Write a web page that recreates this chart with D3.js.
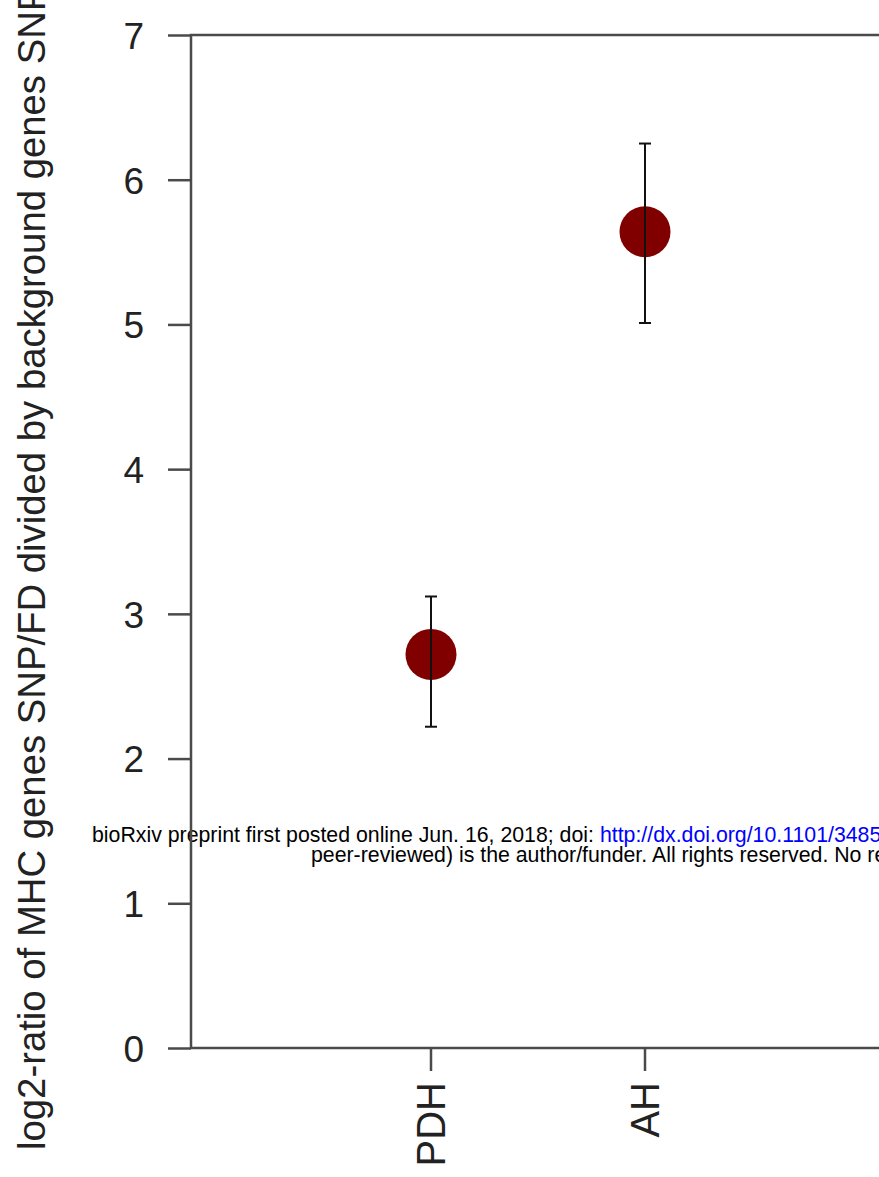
<!DOCTYPE html>
<meta charset="utf-8">
<head>
<script type="text/javascript" src="https://cdn.jsdelivr.net/npm/d3@7/dist/d3.min.js"></script>
<style>
	body { margin: 0; background: #fff; }
	svg { display: block; }
	.axis text { font-family: "Liberation Sans", Arial, sans-serif; }
</style>
</head>
<body>
<div id="chart"></div>
<script>

// data
var groups = ["PDH", "AH"];
var ratio = [2.72, 5.64];
var upper = [3.12, 6.25];
var lower = [2.22, 5.01];
var yTicks = [0, 1, 2, 3, 4, 5, 6, 7];

var width = 879, height = 1177;

var svg = d3.select("#chart").append("svg")
	.attr("width", width)
	.attr("height", height);

// scales
var y = d3.scaleLinear().domain([0, 7]).range([1048, 35]);
var x = d3.scaleLinear().domain([0, 1]).range([431, 645]);

var axisColor = "#4a4a4a";

// watermark (sits under the plot)
var wm = svg.append("g")
	.attr("font-family", "'Liberation Sans', Arial, sans-serif")
	.attr("font-size", "21.3px");
var line1 = wm.append("text").attr("x", 92).attr("y", 841.5);
line1.append("tspan").attr("fill", "#000").text("bioRxiv preprint first posted online Jun. 16, 2018; doi: ");
line1.append("tspan").attr("fill", "#0000ff").text("http://dx.doi.org/10.1101/348540");
wm.append("text").attr("x", 311).attr("y", 861.5).attr("fill", "#000")
	.text("peer-reviewed) is the author/funder. All rights reserved. No reuse allowed without permission.");

// box (right side runs off the picture)
svg.append("path")
	.attr("d", "M" + (width + 10) + "," + y(7) + "H191V" + y(0) + "H" + (width + 10))
	.attr("fill", "none")
	.attr("stroke", axisColor)
	.attr("stroke-width", 2.5);

// y axis
var yAxis = svg.append("g")
	.attr("class", "axis")
	.attr("transform", "translate(191,0)")
	.call(d3.axisLeft(y).tickValues(yTicks).tickSize(23).tickPadding(24).tickFormat(d3.format("d")));
yAxis.select(".domain").remove();
yAxis.selectAll("line").attr("stroke", axisColor).attr("stroke-width", 2.5);
yAxis.selectAll("text").attr("font-size", "37px").attr("fill", "#222").attr("dy", "0.36em");

// x axis ticks + rotated labels
var xAxis = svg.append("g").attr("class", "axis");
xAxis.selectAll("line").data(groups).enter().append("line")
	.attr("x1", function(d, i) { return x(i); })
	.attr("x2", function(d, i) { return x(i); })
	.attr("y1", y(0))
	.attr("y2", y(0) + 23)
	.attr("stroke", axisColor)
	.attr("stroke-width", 2.5);
xAxis.selectAll("text").data(groups).enter().append("text")
	.attr("transform", function(d, i) { return "translate(" + (x(i) + 14) + "," + (y(0) + 34) + ") rotate(-90)"; })
	.attr("text-anchor", "end")
	.attr("font-size", "40px")
	.attr("fill", "#222")
	.text(function(d) { return d; });

// y axis title
svg.append("text")
	.attr("transform", "translate(45,1150) rotate(-90)")
	.attr("font-family", "'Liberation Sans', Arial, sans-serif")
	.attr("font-size", "38.3px")
	.attr("fill", "#222")
	.text("log2-ratio of MHC genes SNP/FD divided by background genes SNP/FD");

// points
svg.append("g").selectAll("circle").data(groups).enter().append("circle")
	.attr("cx", function(d, i) { return x(i); })
	.attr("cy", function(d, i) { return y(ratio[i]); })
	.attr("r", 25.5)
	.attr("fill", "#800000");

// error bars
var eb = svg.append("g").attr("stroke", "#111").attr("stroke-width", 2);
groups.forEach(function(d, i) {
	eb.append("line")
		.attr("x1", x(i)).attr("x2", x(i))
		.attr("y1", y(upper[i])).attr("y2", y(lower[i]));
	[upper[i], lower[i]].forEach(function(v) {
		eb.append("line")
			.attr("x1", x(i) - 6).attr("x2", x(i) + 6)
			.attr("y1", y(v)).attr("y2", y(v));
	});
});

</script>
</body>
</html>
